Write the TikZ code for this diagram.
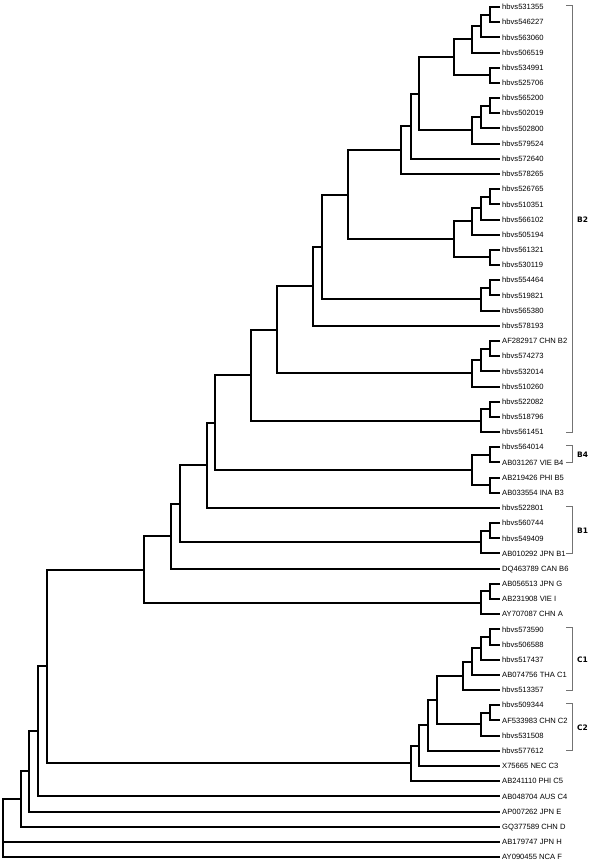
\documentclass[tikz,border=0pt]{standalone}
\usepackage{fontspec}
\setmainfont{Liberation Sans}
\newfontfamily\cladefont{DejaVu Sans}
\usetikzlibrary{calc}

\begin{document}
\begin{tikzpicture}[x=1pt, y=-1pt,
    branch/.style={line width=2pt, black},
    leaf/.style={anchor=west, inner sep=2pt, text height=5.4pt, text depth=0pt,
        font=\fontsize{7.6}{9}\selectfont},
    brk/.style={line width=0.9pt, black!55},
    clab/.style={anchor=west, inner sep=0pt, font=\cladefont\bfseries\fontsize{7.5}{9}\selectfont}]
    % 画布大小
    \useasboundingbox (0,0) rectangle (600,868);

    % 叶子位置
    \def\yfirst{7}      % 第一个叶子
    \def\dy{15.18}      % 叶子间距
    \def\xtip{500}      % 叶子末端

    % 叶子标签
    \foreach \i/\lab in {1/hbvs531355, 2/hbvs546227, 3/hbvs563060, 4/hbvs506519,
        5/hbvs534991, 6/hbvs525706, 7/hbvs565200, 8/hbvs502019, 9/hbvs502800,
        10/hbvs579524, 11/hbvs572640, 12/hbvs578265, 13/hbvs526765, 14/hbvs510351,
        15/hbvs566102, 16/hbvs505194, 17/hbvs561321, 18/hbvs530119, 19/hbvs554464,
        20/hbvs519821, 21/hbvs565380, 22/hbvs578193, 23/AF282917 CHN B2,
        24/hbvs574273, 25/hbvs532014, 26/hbvs510260, 27/hbvs522082, 28/hbvs518796,
        29/hbvs561451, 30/hbvs564014, 31/AB031267 VIE B4, 32/AB219426 PHI B5,
        33/AB033554 INA B3, 34/hbvs522801, 35/hbvs560744, 36/hbvs549409,
        37/AB010292 JPN B1, 38/DQ463789 CAN B6, 39/AB056513 JPN G, 40/AB231908 VIE I,
        41/AY707087 CHN A, 42/hbvs573590, 43/hbvs506588, 44/hbvs517437,
        45/AB074756 THA C1, 46/hbvs513357, 47/hbvs509344, 48/AF533983 CHN C2,
        49/hbvs531508, 50/hbvs577612, 51/X75665 NEC C3, 52/AB241110 PHI C5,
        53/AB048704 AUS C4, 54/AP007262 JPN E, 55/GQ377589 CHN D,
        56/AB179747 JPN H, 57/AY090455 NCA F} {
        \pgfmathsetmacro\yleaf{\yfirst + (\i-1)*\dy}
        \node[leaf] (t\i) at (\xtip, \yleaf) {\lab};
    }

    % 内部节点：名称/横坐标/两个子节点
    \foreach \n/\xx/\p/\q in {a1/490/t1/t2, a2/481/a1/t3, a3/472.3/a2/t4,
        a4/490/t5/t6, a5/454/a3/a4, a6/490/t7/t8, a7/480.7/a6/t9, a8/471.7/a7/t10,
        a9/419.3/a5/a8, a10/410.7/a9/t11, a11/401/a10/t12,
        b1/490/t13/t14, b2/480.7/b1/t15, b3/471.7/b2/t16, b4/490/t17/t18,
        b5/454/b3/b4, c1/348.3/a11/b5,
        d1/490/t19/t20, d2/480.7/d1/t21, c2/321.7/c1/d2, c3/312.7/c2/t22,
        e1/490/t23/t24, e2/480.7/e1/t25, e3/471.7/e2/t26, c4/277.3/c3/e3,
        f1/490/t27/t28, f2/480.7/f1/t29, c5/250.7/c4/f2,
        g1/490/t30/t31, g2/490/t32/t33, g3/471.7/g1/g2, c6/215.3/c5/g3,
        c7/206.7/c6/t34, h1/490/t35/t36, h2/480.7/h1/t37, c8/180/c7/h2,
        c9/171/c8/t38, i1/490/t39/t40, i2/480.7/i1/t41, c10/144.3/c9/i2,
        j1/490/t42/t43, j2/480.7/j1/t44, j3/471.7/j2/t45, j4/463.3/j3/t46,
        k1/490/t47/t48, k2/480.7/k1/t49, j5/437.3/j4/k2, j6/428.3/j5/t50,
        j7/419.3/j6/t51, j8/410.7/j7/t52,
        m1/47.3/c10/j8, m2/38.3/m1/t53, m3/29.3/m2/t54, m4/20.7/m3/t55} {
        \coordinate (\n) at ($(\xx,0 |- \p)!.5!(\xx,0 |- \q)$);
        \draw[branch] (\p) -| (\n) |- (\q);
    }

    % 根节点（三个分支）
    \coordinate (root) at (3,0 |- m4);
    \draw[branch] (m4) -| (root) |- (t57);
    \draw[branch] (root) |- (t56);

    % 基因型括号
    \foreach \g/\top/\bot in {B2/t1/t29, B4/t30/t31, B1/t34/t37, C1/t42/t46, C2/t47/t50} {
        \draw[brk] ($(566,0 |- \top)+(0,-1.5)$) -| ($(572.5,0 |- \bot)$) -- (566,0 |- \bot);
        \node[clab] (l\g) at ($(577,0 |- \top)!.5!(577,0 |- \bot)$) {\g};
    }
\end{tikzpicture}
\end{document}
